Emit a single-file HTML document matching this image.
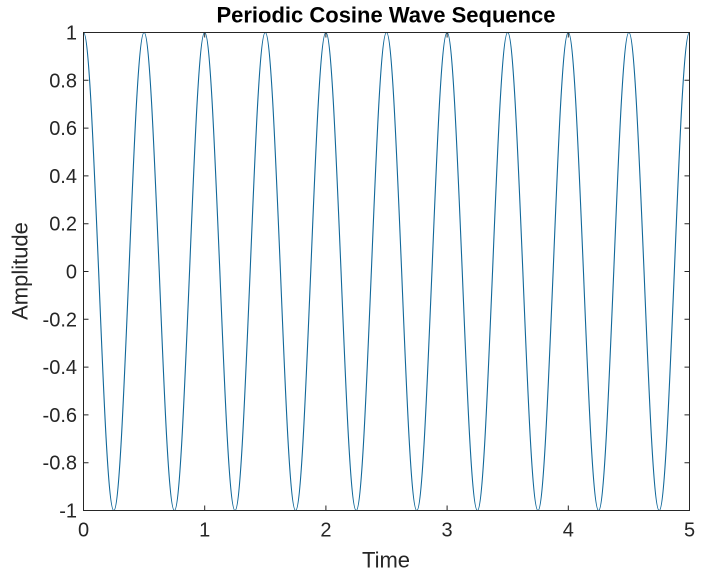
<!DOCTYPE html>
<html>
<head>
<meta charset="utf-8">
<style>
html,body{margin:0;padding:0;background:#fff;}
svg{display:block;}
text{font-family:"Liberation Sans",Arial,sans-serif;fill:#262626;}
</style>
</head>
<body>
<svg width="712" height="578" viewBox="0 0 712 578" xmlns="http://www.w3.org/2000/svg">
<rect x="0" y="0" width="712" height="578" fill="#ffffff"/>
<!-- curve -->
<path fill="none" stroke="#11689a" stroke-width="1.1" d="M83.5,32.5
c5.483,0 10.210,122.44 15.15,239 c4.940,122.44 9.667,239 15.15,239 c5.483,0 10.210,-122.44 15.15,-239 c4.940,-122.44 9.667,-239 15.15,-239
c5.483,0 10.210,122.44 15.15,239 c4.940,122.44 9.667,239 15.15,239 c5.483,0 10.210,-122.44 15.15,-239 c4.940,-122.44 9.667,-239 15.15,-239
c5.483,0 10.210,122.44 15.15,239 c4.940,122.44 9.667,239 15.15,239 c5.483,0 10.210,-122.44 15.15,-239 c4.940,-122.44 9.667,-239 15.15,-239
c5.483,0 10.210,122.44 15.15,239 c4.940,122.44 9.667,239 15.15,239 c5.483,0 10.210,-122.44 15.15,-239 c4.940,-122.44 9.667,-239 15.15,-239
c5.483,0 10.210,122.44 15.15,239 c4.940,122.44 9.667,239 15.15,239 c5.483,0 10.210,-122.44 15.15,-239 c4.940,-122.44 9.667,-239 15.15,-239
c5.483,0 10.210,122.44 15.15,239 c4.940,122.44 9.667,239 15.15,239 c5.483,0 10.210,-122.44 15.15,-239 c4.940,-122.44 9.667,-239 15.15,-239
c5.483,0 10.210,122.44 15.15,239 c4.940,122.44 9.667,239 15.15,239 c5.483,0 10.210,-122.44 15.15,-239 c4.940,-122.44 9.667,-239 15.15,-239
c5.483,0 10.210,122.44 15.15,239 c4.940,122.44 9.667,239 15.15,239 c5.483,0 10.210,-122.44 15.15,-239 c4.940,-122.44 9.667,-239 15.15,-239
c5.483,0 10.210,122.44 15.15,239 c4.940,122.44 9.667,239 15.15,239 c5.483,0 10.210,-122.44 15.15,-239 c4.940,-122.44 9.667,-239 15.15,-239
c5.483,0 10.210,122.44 15.15,239 c4.940,122.44 9.667,239 15.15,239 c5.483,0 10.210,-122.44 15.15,-239 c4.940,-122.44 9.667,-239 15.15,-239"/>
<!-- axes box -->
<rect x="83.5" y="32.5" width="606" height="478" fill="none" stroke="#262626" stroke-width="1"/>
<!-- ticks -->
<g stroke="#262626" stroke-width="1">
<path d="M83.5,32.5h5 M83.5,80.3h5 M83.5,128.1h5 M83.5,175.9h5 M83.5,223.7h5 M83.5,271.5h5 M83.5,319.3h5 M83.5,367.1h5 M83.5,414.9h5 M83.5,462.7h5 M83.5,510.5h5"/>
<path d="M689.5,32.5h-5 M689.5,80.3h-5 M689.5,128.1h-5 M689.5,175.9h-5 M689.5,223.7h-5 M689.5,271.5h-5 M689.5,319.3h-5 M689.5,367.1h-5 M689.5,414.9h-5 M689.5,462.7h-5 M689.5,510.5h-5"/>
<path d="M83.5,510.5v-5 M204.7,510.5v-5 M325.9,510.5v-5 M447.1,510.5v-5 M568.3,510.5v-5 M689.5,510.5v-5"/>
<path d="M83.5,32.5v5 M204.7,32.5v5 M325.9,32.5v5 M447.1,32.5v5 M568.3,32.5v5 M689.5,32.5v5"/>
</g>
<!-- y tick labels -->
<g font-size="20" text-anchor="end">
<text x="77" y="39.5">1</text>
<text x="77" y="87.3">0.8</text>
<text x="77" y="135.1">0.6</text>
<text x="77" y="182.9">0.4</text>
<text x="77" y="230.7">0.2</text>
<text x="77" y="278.5">0</text>
<text x="77" y="326.3">-0.2</text>
<text x="77" y="374.1">-0.4</text>
<text x="77" y="421.9">-0.6</text>
<text x="77" y="469.7">-0.8</text>
<text x="77" y="517.5">-1</text>
</g>
<!-- x tick labels -->
<g font-size="20" text-anchor="middle">
<text x="83.5" y="536.5">0</text>
<text x="204.7" y="536.5">1</text>
<text x="325.9" y="536.5">2</text>
<text x="447.1" y="536.5">3</text>
<text x="568.3" y="536.5">4</text>
<text x="689.5" y="536.5">5</text>
</g>
<!-- axis labels -->
<text x="386" y="567.5" font-size="22" text-anchor="middle">Time</text>
<text transform="translate(27.5,271) rotate(-90)" font-size="22" text-anchor="middle">Amplitude</text>
<!-- title -->
<text x="386" y="22.5" font-size="22" font-weight="bold" text-anchor="middle" style="fill:#000">Periodic Cosine Wave Sequence</text>
</svg>
</body>
</html>
